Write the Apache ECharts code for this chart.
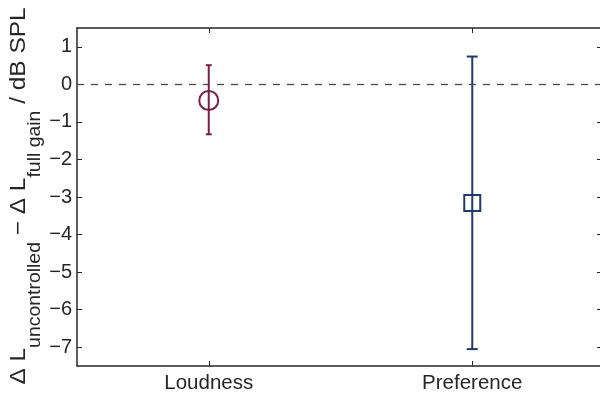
<!DOCTYPE html>
<html><head><meta charset="utf-8">
<script src="https://cdn.jsdelivr.net/npm/echarts@6/dist/echarts.min.js"></script>
<style>html,body{margin:0;padding:0;background:#fff;overflow:hidden}#c{width:606px;height:396px}</style>
</head><body><div id="c"></div>
<script>
var categories = ['Loudness', 'Preference'];
var means = [-0.43, -3.16];
var lows = [-1.33, -7.05];
var highs = [0.51, 0.74];
var yTicks = [-7, -6, -5, -4, -3, -2, -1, 0, 1];
var colors = ['#7a1e48', '#1f3b68'];
var symbols = ['circle', 'rect'];
var symbolSizes = [19, 16];
var capHalf = [3, 5.5];

var chart = echarts.init(document.getElementById('c'));
var FONT = 'Liberation Sans';
var TXT = '#262626';
var fmt = function (v) { return String(v).replace('-', '\u2212'); };

var errData = categories.map(function (c, i) { return [i, lows[i], highs[i]]; });
var series = [{
  type: 'custom',
  xAxisIndex: 0, yAxisIndex: 0,
  data: errData,
  z: 3,
  renderItem: function (params, api) {
    var i = api.value(0);
    var lo = api.coord([i, api.value(1)]);
    var hi = api.coord([i, api.value(2)]);
    var h = capHalf[params.dataIndex];
    var st = { stroke: colors[params.dataIndex], lineWidth: 2, fill: null };
    return { type: 'group', children: [
      { type: 'line', shape: { x1: lo[0], y1: lo[1], x2: hi[0], y2: hi[1] }, style: st },
      { type: 'line', shape: { x1: lo[0] - h, y1: lo[1], x2: lo[0] + h, y2: lo[1] }, style: st },
      { type: 'line', shape: { x1: hi[0] - h, y1: hi[1], x2: hi[0] + h, y2: hi[1] }, style: st }
    ]};
  },
  markLine: {
    silent: true, symbol: 'none', label: { show: false },
    lineStyle: { color: '#4a4a4a', width: 1.3, type: [7, 7], opacity: 1 },
    emphasis: { disabled: true },
    data: [{ yAxis: 0 }]
  }
}];
categories.forEach(function (c, i) {
  series.push({
    type: 'scatter', z: 5,
    symbol: symbols[i], symbolSize: symbolSizes[i],
    itemStyle: { color: 'rgba(255,255,255,0)', borderColor: colors[i], borderWidth: 2, opacity: 1 },
    emphasis: { disabled: true },
    data: [[i, means[i]]]
  });
});

var axisLineStyle = { show: true, onZero: false, lineStyle: { color: TXT, width: 1.5 } };
chart.setOption({
  animation: false,
  grid: { left: 77, top: 28, right: 2, bottom: 30, containLabel: false },
  xAxis: [{
    type: 'category', data: categories, position: 'bottom', boundaryGap: true,
    axisLine: axisLineStyle,
    axisTick: { show: true, inside: true, alignWithLabel: true, length: 5, lineStyle: { color: TXT } },
    axisLabel: { color: TXT, fontFamily: FONT, fontSize: 20.5, margin: 7 },
    splitLine: { show: false }
  }, {
    type: 'category', data: categories, position: 'top', boundaryGap: true,
    axisLine: axisLineStyle,
    axisTick: { show: true, inside: true, alignWithLabel: true, length: 5, lineStyle: { color: TXT } },
    axisLabel: { show: false }, splitLine: { show: false }
  }],
  yAxis: [{
    type: 'value', min: -7.5, max: 1.5, position: 'left',
    axisLine: axisLineStyle,
    axisTick: { show: true, inside: true, length: 5, customValues: yTicks, lineStyle: { color: TXT } },
    axisLabel: { color: TXT, fontFamily: FONT, fontSize: 20, margin: 5, customValues: yTicks, formatter: fmt },
    splitLine: { show: false }
  }, {
    type: 'value', min: -7.5, max: 1.5, position: 'right',
    axisLine: { show: false, onZero: false },
    axisTick: { show: true, inside: true, length: 7, customValues: yTicks, lineStyle: { color: TXT } },
    axisLabel: { show: false }, splitLine: { show: false }
  }],
  graphic: [{
    type: 'text', x: 26, y: 196, rotation: Math.PI / 2, scaleX: 1.11, silent: true,
    style: {
      text: '{m|\u0394 L}{s|uncontrolled}{m| \u2212 \u0394 L}{s|full gain}{m| / dB SPL}',
      align: 'center', verticalAlign: 'middle', fill: TXT, fontFamily: FONT,
      rich: {
        m: { fontSize: 22, lineHeight: 23, verticalAlign: 'top', fontFamily: FONT, fill: TXT },
        s: { fontSize: 17.5, lineHeight: 37, verticalAlign: 'bottom', fontFamily: FONT, fill: TXT }
      }
    }
  }],
  series: series
});
</script></body></html>
